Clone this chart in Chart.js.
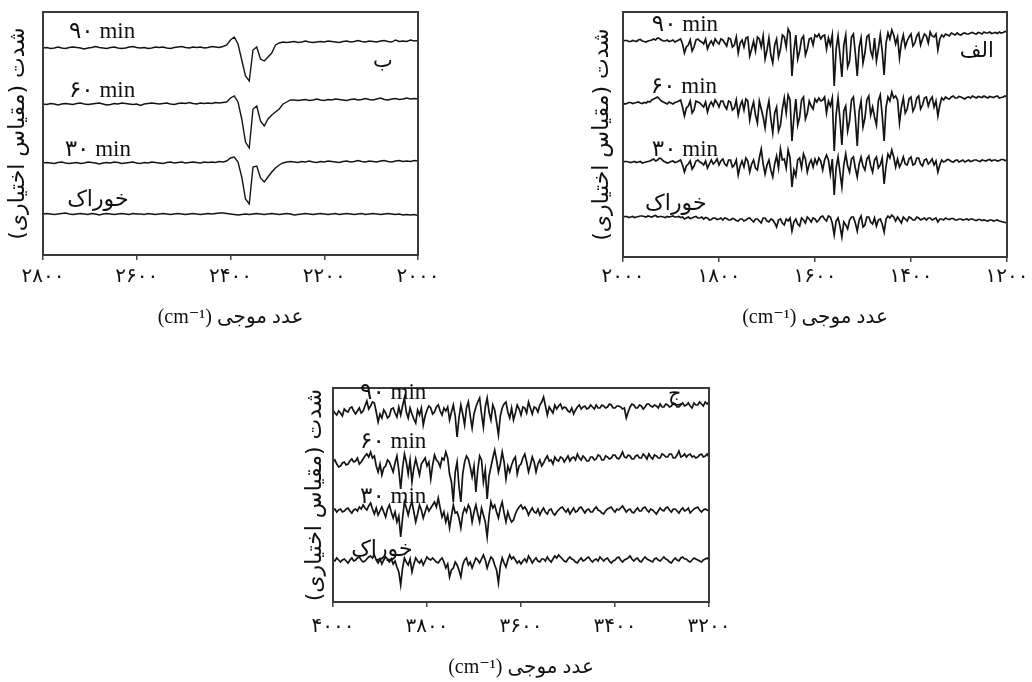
<!DOCTYPE html>
<html><head><meta charset="utf-8">
<script src="https://cdn.jsdelivr.net/npm/chart.js@4.4.1/dist/chart.umd.min.js"></script>
<style>
html,body{margin:0;padding:0;background:#fff;width:1032px;height:682px;overflow:hidden}
.box{position:absolute}
canvas{direction:rtl;display:block}
</style></head><body>
<div class="box" style="left:0;top:0;width:450px;height:340px"><canvas id="cB" dir="rtl" width="450" height="340"></canvas></div>
<div class="box" style="left:560px;top:0;width:472px;height:340px"><canvas id="cA" dir="rtl" width="472" height="340"></canvas></div>
<div class="box" style="left:300px;top:370px;width:440px;height:312px"><canvas id="cC" dir="rtl" width="440" height="312"></canvas></div>
<script>
// ---------- DATA ----------
const seriesNames = ['۹۰ min', '۶۰ min', '۳۰ min', 'خوراک'];

// Panel ب (2800-2000 cm-1)
const xB = [2800,2792,2784,2776,2768,2760,2752,2744,2736,2728,2720,2712,2704,2696,2688,2680,2672,2664,2656,2648,2640,2632,2624,2616,2608,2600,2592,2584,2576,2568,2560,2552,2544,2536,2528,2520,2512,2504,2496,2488,2480,2472,2464,2456,2448,2440,2432,2424,2416,2408,2400,2392,2384,2376,2368,2360,2352,2344,2336,2328,2320,2312,2304,2296,2288,2280,2272,2264,2256,2248,2240,2232,2224,2216,2208,2200,2192,2184,2176,2168,2160,2152,2144,2136,2128,2120,2112,2104,2096,2088,2080,2072,2064,2056,2048,2040,2032,2024,2016,2008,2000];
const offsetsB = [207, 151, 92, 41];
const b90 = [0,0.5,-0.5,0,1,0,-0.5,0.5,1,0.5, 0,-1,0,0.5,1.5,0.5,0,-0.5,0.5,1, 0,-0.5,0,1,1.5,0.5,0,0.5,-0.5,0, 1,0.5,1,0,-0.5,0.5,1,1.5,0.5,0, 1,0.5,1,0,0.5,1.5,1,0.5,1.5,
  3,8,11,4,-12,-28,-33,-2,1,-11,-13,-9,-5,3,5,
  6,5.5,6,6.5,5.5,6,7,6,5.5,6, 6.5,6,7,6.5,6,5.5,6.5,7,6,6.5, 7.5,6.5,6,7,6.5,6,7,7.5,6.5,6, 8,6.5,7,6.5,8,7,7.5];
const b60 = [0,-0.5,0.5,0,-1,0,0.5,0,-0.5,0.5, 1,0,-0.5,0,0.5,1,0,-1,-0.5,0.5, 0,1,0.5,0,-0.5,0,-1.5,0,0.5,1, 0.5,0,0.5,1,0,-0.5,0.5,1,0.5,1.5, 0.5,0,1,0.5,1,0.5,1.5,1,1.5,
  2,6,8,2,-15,-38,-44,-5,-2,-17,-22,-15,-11,-8,-5,0,2,4,
  4,3.5,4,4.5,3.5,4,5,4,3.5,4.5, 4,5,4.5,4,3.5,4.5,5,4,4.5,5.5, 4.5,4,5,6,4.5,4,5,5.5,4.5,5, 6,5,5.5,5];
const b30 = [0,0.5,0,-0.5,0.5,1,0,-0.5,0,0.5, -0.5,0,1,0.5,0,-1,0,0.5,0,1, 0.5,-0.5,0,0.5,1,0,-0.5,0.5,0,1, 0.5,0,-0.5,0.5,1,0,0.5,1,0,0.5, 1,0.5,0,1,0.5,1,0.5,1.5,1,
  2,5,6,1,-14,-36,-41,-4,-3,-15,-19,-14,-9,-5,-2,0,
  1,1.5,1,0.5,1.5,1,2,1,0.5,1.5, 1,2,1.5,1,0.5,1.5,2,1,1.5,2.5, 1.5,1,2,1.5,1,2,2.5,1.5,1,2, 2.5,1.5,2,1.5,2.5,2];
const bFeed = [0,0.5,0,-0.5,0,0.5,1,0,-0.5,0, 0.5,0,-0.5,0.5,0,-1,0,0.5,0,-0.5, 0,0.5,0,-0.5,0.5,0,0,-0.5,0.5,0, -0.5,0,0.5,0,-0.5,0,0.5,0,-0.5,0, 0.5,0,-0.5,0,0.5,0,0.5,1,1,0.5, 0,-0.5,-1,-0.5,0,-0.5,0,0.5,0,-0.5, 0,0.5,0,-0.5,0,0.5,0,-1,-0.5,0, 0.5,0,-0.5,0,0.5,0,-0.5,0,0.5,-0.5, 0,0.5,0,-0.5,0,0.5,-0.5,0,0.5,0, -0.5,0,0.5,0,-0.5,0,-1,-0.5,-1,-0.5, -1.5];
const ticksB = [2800, 2600, 2400, 2200, 2000];
const tickLabelsB = ['۲۸۰۰', '۲۶۰۰', '۲۴۰۰', '۲۲۰۰', '۲۰۰۰'];

// Panel الف (2000-1200 cm-1)
const xA = [2000,1996,1992,1988,1984,1980,1976,1972,1968,1964,
1960,1956,1952,1948,1944,1940,1936,1932,1928,1924,
1920,1916,1912,1908,1904,1900,1896,1892,1888,1884,
1880,1876,1872,1868,1864,1860,1856,1852,1848,1844,
1840,1836,1832,1828,1824,1820,1816,1812,1808,1804,
1800,1796,1792,1788,1784,1780,1776,1772,1768,1764,
1760,1756,1752,1748,1744,1740,1736,1732,1728,1724,
1720,1716,1712,1708,1704,1700,1696,1692,1688,1684,
1680,1676,1672,1668,1664,1660,1656,1652,1648,1644,
1640,1636,1632,1628,1624,1620,1616,1612,1608,1604,
1600,1596,1592,1588,1584,1580,1576,1572,1568,1564,
1560,1556,1552,1548,1544,1540,1536,1532,1528,1524,
1520,1516,1512,1508,1504,1500,1496,1492,1488,1484,
1480,1476,1472,1468,1464,1460,1456,1452,1448,1444,
1440,1436,1432,1428,1424,1420,1416,1412,1408,1404,
1400,1396,1392,1388,1384,1380,1376,1372,1368,1364,
1360,1356,1352,1348,1344,1340,1336,1332,1328,1324,
1320,1316,1312,1308,1304,1300,1296,1292,1288,1284,
1280,1276,1272,1268,1264,1260,1256,1252,1248,1244,
1240,1236,1232,1228,1224,1220,1216,1212,1208,1204,
1200];
const offsetsA = [216, 154, 95, 40];
const a90 = [0,0.5, 0.5,-0.5, -0.5,0.5, 0,-0.5, 1,1.5, 0,-0.5, -1,0, 0.5,1, 2,1, 3,2.5,
  1,0, 0,1, -0.5,0, 1,-1, 0,1, 2,-3, -12,-6, -4,1, -10,-6, 1,2,
  0,-1, -3,2, -8,-3, 0,-4, 2,-1, -3,2, 1,-2, -5,3, 2,-6, -4,4,
  -12,-2, 1,-6, 3,4, -15,-8, 0,-10, 4,2, -6,5, -18,-9, 3,-14, -22,-4,
  2,-16, -8,6, 4,-6, 12,8, -35,-10, 6,-18, -10,2, 5,-14, -8,2, 3,-4,
  6,4, 7,2, 5,6, -8,3, -4,6, -45,-8, 5,-14, -36,-4, 6,-26, -20,4,
  7,-12, -35,-6, 3,-22, -12,4, 6,-10, -16,3, -20,-8, 6,-10, -34,-2, 8,2,
  11,6, -3,4, -17,-2, 6,-6, 0,4, 7,-5, -2,5, 8,-4, 2,7, 5,-2,
  9,5, 4,7, -9,2, 6,4, 7,6, 5,8, 7,6, 8,6.5, 6,7.5, 8,7,
  7,8, 8.5,7.5, 7,8.5, 8,7, 9,8, 8,9, 7.5,8, 8.5,7.5, 9,8, 8.5,9.5,
  9];
const a60 = [0,-1, -0.5,0.5, 0.5,-0.5, 0,0.5, 1,0, -0.5,0.5, 0,1.5, 1,3, 4,5, 6,4,
  2,1, 0,-1, 1,0, -1,0.5, 1,2, 3,-4, -13,-5, -3,2, -10,-7, 2,1,
  0,-2, -4,1, -9,-2, 1,-3, 3,0, -4,2, 2,-3, -6,2, 1,-7, -5,3,
  -12,-3, 2,-7, 4,2, -17,-6, 1,-12, -20,2, -6,-14, -25,-8, 2,-16, -30,-10,
  -4,-28, -22,-6, 5,-10, 8,3, -38,-15, 4,-22, -14,3, 6,-16, -10,2, -3,-6,
  4,1, 5,2, 3,6, -10,2, -3,5, -48,-12, 5,-16, -42,-8, -3,-28, -18,3,
  6,-14, -43,-8, 2,-24, -15,3, 7,-12, -4,-14, -22,2, 8,-12, -38,-4, 6,2,
  11,5, 7,3, -20,-4, 5,-10, -6,4, 6,-8, -4,5, 7,-6, -2,5, 6,-3,
  3,6, -4,2, -13,-2, 5,3, 6,4.5, 4,6, 7,5, 5,6.5, 6,5, 4,5.5,
  6,5, 7,6, 5,6.5, 6,5.5, 7,6, 5,6.5, 6,5.5, 6.5,7, 5,5.5, 6,7,
  6];
const a30 = [0,0.5, 0.5,0, -0.5,0, 0.5,-0.5, 0,0.5, -1,-0.5, 0,0.5, 1,2, 3,1, 2,4,
  3,1, 0,-1, -0.5,0.5, 1,-0.5, 0,1, 2,-3, -10,-4, -2,1, -7,-4, 1,2,
  0,-1, -3,1, -6,-2, 2,-2, 0,3, -3,1, 3,-2, -4,2, 2,-5, -3,2,
  -13,-4, 1,-5, 4,1, -10,-2, 2,-6, -8,4, 13,-2, -12,-3, 2,-8, -15,-2,
  6,-6, 13,2, 3,-6, 12,4, -25,-8, -14,2, 4,-6, 8,3, -10,-2, 2,-5,
  3,-2, 4,1, -8,2, 7,2, -12,3, -33,-6, 5,-10, -25,-3, 8,-4, -10,3,
  5,-6, -15,-2, 5,-4, -8,3, 6,-4, -10,2, 5,-6, -3,4, -22,-4, 8,4,
  12,5, -5,3, -5,-1, 5,-2, -3,3, 5,-3, -2,4, 4,-2, -4,2, 3,-2,
  0,3, -3,1, -10,-3, 2,0, 1,2.5, 2,0.5, 0,1.5, 2,0, 1,2, 0,1,
  2,0.5, 1,2, 2,1, 0.5,2, 1.5,1, 2,2.5, 1,2, 2,1, 1.5,2.5, 2.5,1.5,
  2];
const aFeed = [0,0.5, 0.5,-0.5, 0,0.5, -0.5,0, 0.5,1, 1,0.5, 0,1, 0.5,0, 1,1.5, 0,0.5,
  0.5,0, -0.5,0.5, 0,0.5, 1,0, 0,0.5, -0.5,0, -2,-1, 0,-1.5, -1,0, 0.5,-1,
  -1,0, -2,-0.5, -1,-3, -2.5,-1, -1,-2.5, -2,-1, -3,-1, -1.5,-3, -3,-1.5, -2,-3.5,
  -4,-2, -2,-4, -3,-1.5, -1,-3, -5,-2, -2,-4, -6,-1, -1,-4, -5,-2, -3,-6,
  -10,-3, -2,-6, -8,-2, -4,-1, -14,-5, -2,-7, -9,-1, -3,-6, 0,-2, -5,-1,
  -2,-5, -3,0, 1,-2, -4,1, 0,-6, -18,-4, -1,-9, -20,-5, -8,-12, -3,0,
  0,-6, -14,-3, 1,-10, -8,0, 0,-5, -7,-1, -9,-3, -2,-7, -15,-2, 1,-1,
  2,0, -4,0, -3,-6, 0,-2, -4,0, -1,-3, -3,0, -1,-3, -2,-1, -3,-1,
  -1,-3, -2,-1, -5,-2, -2,-3, -1,-2, -2.5,-1.5, -1.5,-3, -3,-2, -2,-3, -2.5,-2,
  -3,-2, -2,-3, -3.5,-2.5, -2.5,-3.5, -3,-3.5, -4,-3, -3,-4, -3.5,-3, -4,-4.5, -5,-5.5,
  -6];
const ticksA = [2000, 1800, 1600, 1400, 1200];
const tickLabelsA = ['۲۰۰۰', '۱۸۰۰', '۱۶۰۰', '۱۴۰۰', '۱۲۰۰'];

// Panel ج (4000-3200 cm-1)
const xC = [4000,3996,3992,3988,3984,3980,3976,3972,3968,3964,
3960,3956,3952,3948,3944,3940,3936,3932,3928,3924,
3920,3916,3912,3908,3904,3900,3896,3892,3888,3884,
3880,3876,3872,3868,3864,3860,3856,3852,3848,3844,
3840,3836,3832,3828,3824,3820,3816,3812,3808,3804,
3800,3796,3792,3788,3784,3780,3776,3772,3768,3764,
3760,3756,3752,3748,3744,3740,3736,3732,3728,3724,
3720,3716,3712,3708,3704,3700,3696,3692,3688,3684,
3680,3676,3672,3668,3664,3660,3656,3652,3648,3644,
3640,3636,3632,3628,3624,3620,3616,3612,3608,3604,
3600,3596,3592,3588,3584,3580,3576,3572,3568,3564,
3560,3556,3552,3548,3544,3540,3536,3532,3528,3524,
3520,3516,3512,3508,3504,3500,3496,3492,3488,3484,
3480,3476,3472,3468,3464,3460,3456,3452,3448,3444,
3440,3436,3432,3428,3424,3420,3416,3412,3408,3404,
3400,3396,3392,3388,3384,3380,3376,3372,3368,3364,
3360,3356,3352,3348,3344,3340,3336,3332,3328,3324,
3320,3316,3312,3308,3304,3300,3296,3292,3288,3284,
3280,3276,3272,3268,3264,3260,3256,3252,3248,3244,
3240,3236,3232,3228,3224,3220,3216,3212,3208,3204,
3200];
const offsetsC = [192, 140, 92, 42];
const c90 = [0,-3, -5,-1, -3,-6, 1,-1, -2,2, 3,-1, -4,-1, 2,-3, -1,4, 9,1,
  4,8, 7,-2, -12,-4, -8,0, -3,-8, -6,1, 2,-3, -7,3, -5,4, 12,-2,
  -8,2, -4,-9, -13,0, -5,2, -15,-6, 0,4, 2,-4, -2,3, 5,-1, -5,2,
  -1,3, -10,-2, 5,-6, -27,-8, 5,-4, -15,2, 8,-6, -18,-4, 3,8, 12,-4,
  -17,3, 12,-2, -10,5, 0,-12, -25,-6, 2,6, 8,-2, -8,2, -10,-3, 5,1,
  -5,3, 2,-3, 8,2, -4,3, 2,-2, 5,8, 13,4, -5,3, 0,-3, 5,1,
  4,6, 1,3, 2,-1, -2,2, -4,0, 3,5, 1,3, 4,1, 2,5, 3,1,
  5,2, 2,5, 4,2, 3,6, 5,2, 2,4, 4,3, 1,2, -8,-2, 3,6,
  5,2, 2,5, 4,1, 3,6, 6,4, 3,5, 4,2, 6,3, 3,6, 5,3,
  4,7, 6,3, 3,5, 7,4, 5,7, 4,2, 7,5, 5,8, 6,4, 8,6,
  8];
const c60 = [0,2, -2,-5, -4,-1, 0,-3, -2,1, 3,0, 1,4, -2,0, 3,6, 8,5,
  10,4, 6,-4, -10,-2, -13,-6, -4,2, 0,-5, -10,-1, 6,-8, -27,-6, 8,0,
  -12,2, -20,-6, 3,-5, -13,-2, 1,4, -4,0, -17,-3, 7,2, 0,-5, 4,2,
  10,4, -12,-20, -40,-10, 0,-24, -40,-12, 0,6, 3,-5, -15,-4, -30,-8, 6,2,
  -20,-8, -37,-14, -5,4, 12,2, -10,-2, 10,0, -17,-4, -10,-3, 2,5, -12,-4,
  -2,4, 8,0, -10,-3, 5,0, -10,-2, 2,-4, -1,3, 6,1, 2,-2, 5,2,
  1,5, 4,0, 3,6, 1,4, 5,2, 8,4, 2,6, 4,1, 1,5, 5,2,
  3,7, 6,2, 2,6, 5,3, 4,7, 7,4, 3,6, 10,5, 4,7, 6,3,
  3,6, 7,4, 4,8, 6,3, 8,5, 3,7, 6,4, 4,8, 7,5, 5,8,
  8,4, 4,7, 11,5, 6,8, 5,7, 8,5, 6,4, 5,7, 8,5, 6,8,
  5];
const c30 = [0,1, -2,0, 1,-2, -1,1, 2,-1, -3,0, 1,-1, 3,1, 5,2, 0,4,
  7,1, -4,2, -5,-1, 3,-2, -7,1, 5,-2, -8,-2, -12,-6, -27,-8, 8,2,
  -5,3, 8,-2, -12,-4, 5,0, -8,-2, 4,-1, 2,5, 8,3, 12,2, -7,-2,
  -12,-5, -18,-6, 5,-3, -2,-8, -18,-4, 2,-2, 5,1, -12,-2, 5,-4, -12,2,
  -5,-12, -27,-6, 8,2, 5,-2, -8,2, 8,-3, -12,-2, -8,-12, -10,-4, 0,3,
  5,1, 3,0, -5,-1, 2,-2, -3,1, -5,-1, 2,-2, -4,0, 1,-3, -5,-2,
  0,2, 3,0, -2,1, -4,-1, 2,-2, -1,2, 3,0, -3,0, 1,-2, -2,1,
  3,0, -1,-3, -4,-1, 1,2, 3,0, -2,1, 0,2, 4,1, -2,0, 1,-2,
  -3,0, 2,-1, -1,2, 3,0, -2,1, 0,-2, -4,-1, 2,0, -1,2, 3,0,
  -2,1, 1,-1, -3,0, 2,-1, 0,2, -3,-1, 1,2, 3,0, -2,0, 1,0,
  -1];
const cFeed = [0,-1, 2,0, -2,0, 1,-1, -3,0, 2,-1, 0,2, 3,0, -2,-1, 1,3,
  4,2, 5,0, -3,1, -4,0, 3,1, -2,1, -4,-1, -7,-12, -25,-8, 2,-2,
  -5,1, -12,-4, 2,-1, -3,0, -5,-1, 3,1, 0,2, 0,-2, -3,0, 2,-2,
  -8,-4, -17,-10, -8,-2, -5,-10, -17,-5, 0,2, -5,-2, -8,-3, 2,0, -3,1,
  5,0, -8,-2, 3,1, -5,-10, -23,-6, 2,-3, -7,0, 5,1, 3,0, -3,-1,
  -4,-1, 1,-2, 4,1, -3,0, 2,-1, -2,1, 1,-1, 3,0, -2,1, 4,2,
  5,3, 1,-1, -2,1, 3,1, 0,-2, -3,0, 2,-1, 0,2, 3,0, -2,0,
  1,-1, 3,1, -1,1, 2,-1, -3,-1, 0,2, 3,0, -2,0, 1,2, 4,1,
  -1,1, 2,-1, -2,1, 3,1, 0,-1, -2,1, 2,0, -1,1, 3,1, 0,-2,
  -3,0, 2,0, -1,2, 3,1, 1,-1, -2,0, 2,1, 0,-1, -2,0, 1,2,
  0];
const ticksC = [4000, 3800, 3600, 3400, 3200];
const tickLabelsC = ['۴۰۰۰', '۳۸۰۰', '۳۶۰۰', '۳۴۰۰', '۳۲۰۰'];

const xTitle = 'عدد موجی (cm⁻¹)';
const yTitle = 'شدت (مقیاس اختیاری)';

// ---------- RENDER ----------
const LATIN = '"Liberation Serif", "DejaVu Sans", serif';
const ARAB = '"DejaVu Sans", "Liberation Serif", sans-serif';

const framePlugin = {
  id: 'frame',
  afterDatasetsDraw(chart) {
    const a = chart.chartArea, ctx = chart.ctx;
    ctx.save();
    ctx.strokeStyle = '#3a3a3a';
    ctx.lineWidth = 2;
    ctx.strokeRect(a.left, a.top, a.right - a.left, a.bottom - a.top);
    ctx.restore();
  }
};
const notePlugin = {
  id: 'notes',
  afterDatasetsDraw(chart, args, opts) {
    const ctx = chart.ctx, xs = chart.scales.x, ys = chart.scales.y;
    ctx.save();
    ctx.direction = 'ltr';
    ctx.fillStyle = '#111';
    ctx.textAlign = 'center';
    ctx.textBaseline = 'middle';
    (opts.items || []).forEach(it => {
      ctx.font = it.font;
      ctx.fillText(it.text, xs.getPixelForValue(it.x), ys.getPixelForValue(it.y));
    });
    ctx.restore();
  }
};

function makePanel(id, xs, devs, offsets, ticks, tickLabels, L, notes) {
  const datasets = devs.map((d, k) => ({
    label: seriesNames[k],
    data: xs.map((x, i) => ({x: x, y: offsets[k] + d[i]})),
    borderColor: '#141414', borderWidth: L.lw, pointRadius: 0, tension: 0, fill: false
  }));
  return new Chart(document.getElementById(id), {
    type: 'line',
    data: {datasets},
    plugins: [framePlugin, notePlugin],
    options: {
      responsive: false, animation: false, devicePixelRatio: 1,
      layout: {padding: {left: 0, right: L.padR, top: L.padT, bottom: 0}},
      plugins: {legend: {display: false}, tooltip: {enabled: false}, notes: {items: notes}},
      scales: {
        x: {
          type: 'linear', reverse: true, min: Math.min(...ticks), max: Math.max(...ticks),
          afterBuildTicks: s => { s.ticks = ticks.map(v => ({value: v})); },
          afterFit: s => { s.height = L.xH; s.paddingLeft = 0; s.paddingRight = 0; },
          ticks: {
            autoSkip: false, maxRotation: 0, minRotation: 0, padding: L.tickPad, color: '#111',
            font: {family: ARAB, size: 20},
            callback: v => tickLabels[ticks.indexOf(v)]
          },
          grid: {drawOnChartArea: false, drawTicks: true, tickLength: 5, color: '#444', lineWidth: 1.5},
          border: {display: false},
          title: {display: true, text: xTitle, color: '#111', font: {family: LATIN, size: 20}, padding: {top: 0, bottom: L.titlePadB}}
        },
        y: {
          min: 0, max: L.yMax,
          afterFit: s => { s.width = L.yW; s.paddingTop = 0; s.paddingBottom = 0; },
          ticks: {display: false},
          grid: {display: false},
          border: {display: false},
          title: {display: true, text: yTitle, color: '#111', font: {family: ARAB, size: 22}, padding: {top: L.yTitlePad, bottom: 0}}
        }
      }
    }
  });
}

const fMin = '23px ' + LATIN;
const fFeed = '22px ' + ARAB;
const fLetter = '21px ' + ARAB;

makePanel('cB', xB, [b90, b60, b30, bFeed], offsetsB, ticksB, tickLabelsB,
  {padR: 32, padT: 12, xH: 85, yW: 43, yMax: 243, tickPad: 5, titlePadB: 10, yTitlePad: 5, lw: 1.4},
  [{text: seriesNames[0], x: 2674, y: 223, font: fMin}, {text: seriesNames[1], x: 2674, y: 164, font: fMin},
   {text: seriesNames[2], x: 2683, y: 105, font: fMin}, {text: seriesNames[3], x: 2683, y: 55, font: fFeed},
   {text: 'ب', x: 2075, y: 193, font: fLetter}]);

makePanel('cA', xA, [a90, a60, a30, aFeed], offsetsA, ticksA, tickLabelsA,
  {padR: 25, padT: 12, xH: 83, yW: 63, yMax: 245, tickPad: 3, titlePadB: 10, yTitlePad: 29, lw: 1.7},
  [{text: seriesNames[0], x: 1871, y: 232, font: fMin}, {text: seriesNames[1], x: 1873, y: 170, font: fMin},
   {text: seriesNames[2], x: 1871, y: 107, font: fMin}, {text: seriesNames[3], x: 1890, y: 53, font: fFeed},
   {text: 'الف', x: 1263, y: 205, font: fLetter}]);

makePanel('cC', xC, [c90, c60, c30, cFeed], offsetsC, ticksC, tickLabelsC,
  {padR: 31, padT: 18, xH: 80, yW: 33, yMax: 214, tickPad: 8, titlePadB: 2, yTitlePad: 2, lw: 1.7},
  [{text: seriesNames[0], x: 3872, y: 209, font: fMin}, {text: seriesNames[1], x: 3872, y: 160, font: fMin},
   {text: seriesNames[2], x: 3872, y: 105, font: fMin}, {text: seriesNames[3], x: 3896, y: 52, font: fFeed},
   {text: 'ج', x: 3273, y: 207, font: fLetter}]);
</script>
</body></html>
